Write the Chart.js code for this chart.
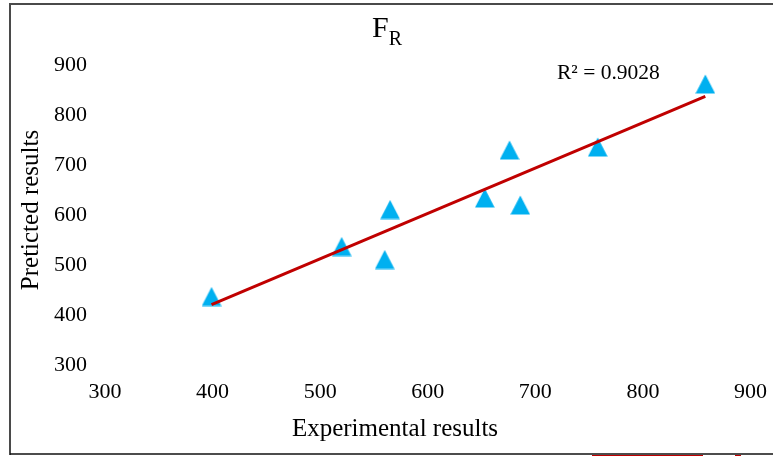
<!DOCTYPE html>
<html><head><meta charset="utf-8">
<script src="https://cdn.jsdelivr.net/npm/chart.js@4.4.0/dist/chart.umd.min.js"></script>
<style>html,body{margin:0;padding:0;background:#fff;} #wrap{position:relative;width:773px;height:456px;}</style>
</head><body><div id="wrap"><canvas id="c" width="773" height="456"></canvas></div>
<script>
// ---- data ----
const experimental = [399, 520, 560, 565, 653, 676, 686, 758, 858];
const predicted    = [437, 537, 511, 611, 634, 730, 620, 736, 862];
const xTicks = [300, 400, 500, 600, 700, 800, 900];
const yTicks = [300, 400, 500, 600, 700, 800, 900];
const titleMain = 'F';
const titleSub = 'R';
const r2Label = 'R\u00B2 = 0.9028';
const xTitle = 'Experimental results';
const yTitle = 'Preticted results';

// ---- linear trendline (least squares fit of the data) ----
const n = experimental.length;
const mx = experimental.reduce((a, b) => a + b, 0) / n;
const my = predicted.reduce((a, b) => a + b, 0) / n;
let sxy = 0, sxx = 0;
for (let i = 0; i < n; i++) { sxy += (experimental[i] - mx) * (predicted[i] - my); sxx += (experimental[i] - mx) ** 2; }
const slope = sxy / sxx, intercept = my - slope * mx;
const xMin = Math.min(...experimental), xMax = Math.max(...experimental);
const trend = [{x: xMin, y: intercept + slope * xMin}, {x: xMax, y: intercept + slope * xMax}];

const points = experimental.map((x, i) => ({x, y: predicted[i]}));

// triangle marker
const tri = document.createElement('canvas');
tri.width = 20; tri.height = 20;
(function () {
  const g = tri.getContext('2d');
  g.fillStyle = '#00B0F0';
  g.beginPath(); g.moveTo(10, 0.5); g.lineTo(19.8, 19.5); g.lineTo(0.2, 19.5); g.closePath(); g.fill();
})();

const SERIF = '"Liberation Serif", "Times New Roman", serif';

const decor = {
  id: 'decor',
  afterDraw(chart) {
    const ctx = chart.ctx;
    ctx.save();
    // frame
    ctx.strokeStyle = '#4a4a4a'; ctx.lineWidth = 2;
    ctx.beginPath(); ctx.moveTo(10, 4); ctx.lineTo(773, 4); ctx.stroke();
    ctx.beginPath(); ctx.moveTo(10, 3); ctx.lineTo(10, 455); ctx.stroke();
    ctx.strokeStyle = '#111'; ctx.lineWidth = 1.5;
    ctx.beginPath(); ctx.moveTo(10, 454); ctx.lineTo(773, 454); ctx.stroke();
    ctx.fillStyle = '#C00000';
    ctx.fillRect(592, 455, 111, 1); ctx.fillRect(735, 455, 6, 1);
    // title
    ctx.fillStyle = '#000';
    ctx.textBaseline = 'alphabetic'; ctx.textAlign = 'left';
    ctx.font = '30px ' + SERIF;
    ctx.fillText(titleMain, 372, 37);
    const fw = ctx.measureText(titleMain).width;
    ctx.font = '20px ' + SERIF;
    ctx.fillText(titleSub, 372 + fw, 45);
    // R2 label
    ctx.font = '21.5px ' + SERIF;
    ctx.fillText(r2Label, 557, 79);
    // axis titles
    ctx.font = '25px ' + SERIF;
    ctx.textAlign = 'center';
    ctx.fillText(xTitle, 395, 436);
    ctx.translate(38, 210); ctx.rotate(-Math.PI / 2);
    ctx.fillText(yTitle, 0, 0);
    ctx.restore();
  }
};

new Chart(document.getElementById('c'), {
  type: 'scatter',
  data: {
    datasets: [
      { type: 'line', data: trend, borderColor: '#C00000', borderWidth: 3, pointRadius: 0, fill: false, order: 0 },
      { data: points, pointStyle: tri, pointRadius: 10, backgroundColor: '#00B0F0', borderWidth: 0, order: 1 }
    ]
  },
  options: {
    responsive: false, animation: false, devicePixelRatio: 1,
    layout: { padding: { top: 65, right: 12, bottom: 0, left: 0 } },
    plugins: { legend: { display: false }, tooltip: { enabled: false } },
    scales: {
      x: {
        type: 'linear', min: 300, max: 900,
        afterBuildTicks: s => { s.ticks = xTicks.map(v => ({value: v})); },
        afterFit: s => { s.height = 91; },
        grid: { display: false }, border: { display: false },
        ticks: { font: { family: SERIF, size: 22 }, color: '#000', padding: 6, maxRotation: 0 }
      },
      y: {
        type: 'linear', min: 300, max: 900,
        afterBuildTicks: s => { s.ticks = yTicks.map(v => ({value: v})); },
        afterFit: s => { s.width = 105; },
        grid: { display: false }, border: { display: false },
        ticks: { font: { family: SERIF, size: 22 }, color: '#000', padding: 10 }
      }
    }
  },
  plugins: [decor]
});
</script></body></html>
